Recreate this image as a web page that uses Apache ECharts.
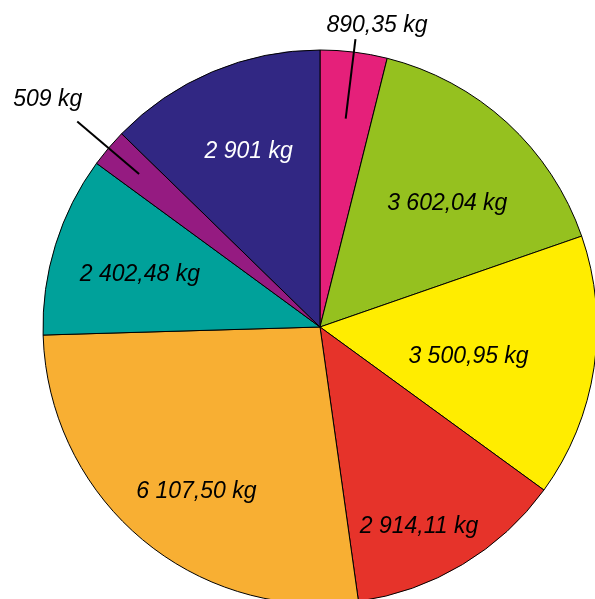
<!DOCTYPE html>
<html>
<head>
<meta charset="utf-8">
<script src="https://cdn.jsdelivr.net/npm/echarts@6/dist/echarts.min.js"></script>
<style>
html, body { margin: 0; padding: 0; background: #fff; }
#chart { width: 595px; height: 599px; }
</style>
</head>
<body>
<div id="chart"></div>
<script>
// slices, clockwise from 12 o'clock
const masses = [890.35, 3602.04, 3500.95, 2914.11, 6107.50, 2402.48, 509, 2901];
const colors = ['#E5207A', '#95C11F', '#FFED00', '#E6332A', '#F8AF33', '#00A19A', '#951B81', '#312783'];
const unit = 'kg';

// layout tweaks (label nudges in px), not data
const innerNudge = [[0, 0], [0, 16], [-38, 2], [2, 38], [-2, 21], [0, 4], [0, 0], [2, -2]];
const calloutIdx = [0, 6];

const CENTER = [320, 327];
const R = 277;
const font = {fontFamily: 'Liberation Sans, Arial, sans-serif', fontStyle: 'italic', fontSize: 23};

// "3 602,04 kg" style
function fmt(v) {
    const dec = Number.isInteger(v) ? 0 : 2;
    const parts = v.toFixed(dec).split('.');
    const grouped = parts[0].replace(/\B(?=(\d{3})+(?!\d))/g, ' ');
    return grouped + (parts[1] ? ',' + parts[1] : '') + ' ' + unit;
}

// transparent pie used only to carry an outside label with a leader line
function callout(idx, r, len, dx, dy) {
    return {
        type: 'pie',
        z: 10,
        center: CENTER,
        radius: r,
        silent: true,
        avoidLabelOverlap: false,
        itemStyle: {color: 'transparent', borderWidth: 0},
        label: Object.assign({show: false, position: 'outside', color: '#000', formatter: p => fmt(p.value)}, font),
        labelLine: {show: false, length: len, length2: 0, lineStyle: {color: '#000', width: 2}},
        data: masses.map((v, i) => ({
            value: v,
            label: {show: i === idx},
            labelLine: {show: i === idx}
        })),
        labelLayout: p => (p.dataIndex === idx ? {dx: dx, dy: dy} : {})
    };
}

const chart = echarts.init(document.getElementById('chart'), null, {renderer: 'canvas'});

chart.setOption({
    animation: false,
    backgroundColor: '#fff',
    series: [
        {
            type: 'pie',
            z: 1,
            center: CENTER,
            radius: R,
            startAngle: 90,
            silent: true,
            label: {show: false},
            labelLine: {show: false},
            itemStyle: {borderColor: '#000', borderWidth: 1},
            data: masses.map((v, i) => ({value: v, itemStyle: {color: colors[i]}}))
        },
        {
            // inner labels, placed at ~0.67 R
            type: 'pie',
            z: 5,
            center: CENTER,
            radius: [0, R * 1.34],
            silent: true,
            itemStyle: {color: 'transparent', borderWidth: 0},
            label: Object.assign({position: 'inside', formatter: p => fmt(p.value)}, font),
            labelLine: {show: false},
            data: masses.map((v, i) => ({
                value: v,
                label: {show: !calloutIdx.includes(i), color: i === 7 ? '#fff' : '#000'}
            })),
            labelLayout: p => ({dx: innerNudge[p.dataIndex][0], dy: innerNudge[p.dataIndex][1]})
        },
        callout(0, 210, 80, -34, -14),
        callout(6, 237, 81, 10, -22)
    ]
});
</script>
</body>
</html>
